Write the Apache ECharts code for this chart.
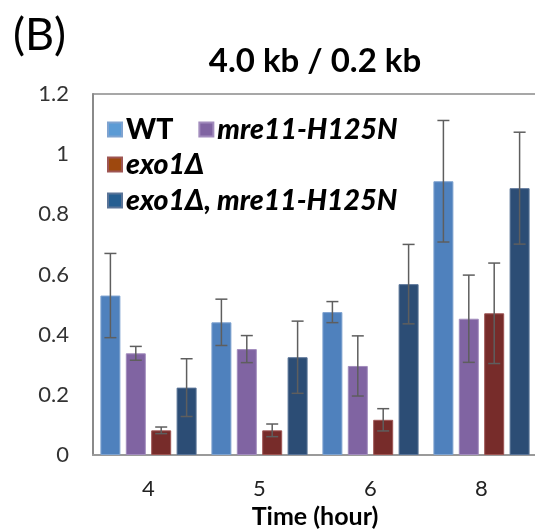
<!DOCTYPE html>
<html>
<head>
<meta charset="utf-8">
<script src="https://cdn.jsdelivr.net/npm/echarts@6/dist/echarts.min.js"></script>
<style>html,body{margin:0;padding:0;background:#fff}#c{width:535px;height:530px}</style>
</head>
<body>
<div id="c"></div>
<script>
// ---- data ----
var categories = ['4', '5', '6', '8'];
var seriesNames = ['WT', 'mre11-H125N', 'exo1Δ', 'exo1Δ, mre11-H125N'];
var wtValues  = [0.530, 0.441, 0.475, 0.910];
var wtErrors  = [0.140, 0.077, 0.035, 0.202];
var mreValues = [0.338, 0.352, 0.296, 0.453];
var mreErrors = [0.023, 0.045, 0.100, 0.145];
var exoValues = [0.082, 0.082, 0.117, 0.471];
var exoErrors = [0.011, 0.021, 0.037, 0.167];
var dblValues = [0.224, 0.325, 0.568, 0.887];
var dblErrors = [0.096, 0.120, 0.132, 0.186];
var yTickLabels = ['0', '0.2', '0.4', '0.6', '0.8', '1', '1.2'];

// ---- styling ----
var FONT = 'Lato, "Noto Sans", sans-serif';
var barColors = ['#4F81BD', '#8064A2', '#772C2A', '#2C4D75'];
var barBorders = ['#7FA3D0', '#A28CBD', '#9E5654', '#5A7498'];
var legendColors = ['#5B9BD5', '#8064A2', '#9E480E', '#255E91'];
var BAR_W = 20, BAR_GAP = 0.27;

var allValues = [wtValues, mreValues, exoValues, dblValues];
var allErrors = [wtErrors, mreErrors, exoErrors, dblErrors];

var chart = echarts.init(document.getElementById('c'), null, {renderer: 'canvas'});

var series = [];
allValues.forEach(function (vals, i) {
  series.push({
    name: seriesNames[i],
    type: 'bar',
    data: vals,
    barWidth: BAR_W,
    barGap: (BAR_GAP * 100) + '%',
    itemStyle: {color: barColors[i], borderColor: barBorders[i], borderWidth: 1},
    z: 2
  });
});
allValues.forEach(function (vals, i) {
  var step = BAR_W * (1 + BAR_GAP);
  var offset = (i - 1.5) * step;
  series.push({
    type: 'custom',
    name: 'err' + i,
    z: 5,
    silent: true,
    data: vals.map(function (v, k) { return [k, v, allErrors[i][k]]; }),
    renderItem: function (params, api) {
      var k = api.value(0), v = api.value(1), e = api.value(2);
      var top = api.coord([k, v + e]);
      var bot = api.coord([k, v - e]);
      var x = top[0] + offset;
      var cap = 6;
      var st = {stroke: '#5E5E5E', lineWidth: 1.5};
      return {
        type: 'group',
        children: [
          {type: 'line', shape: {x1: x, y1: top[1], x2: x, y2: bot[1]}, style: st},
          {type: 'line', shape: {x1: x - cap, y1: top[1], x2: x + cap, y2: top[1]}, style: st},
          {type: 'line', shape: {x1: x - cap, y1: bot[1], x2: x + cap, y2: bot[1]}, style: st}
        ]
      };
    }
  });
});

function legendItem(i, italic) {
  return {
    name: seriesNames[i],
    itemStyle: {color: legendColors[i]},
    textStyle: {fontStyle: italic ? 'italic' : 'normal'}
  };
}
var legendBase = {
  icon: 'rect', itemWidth: 14, itemHeight: 14, padding: 0, itemGap: 25,
  selectedMode: false,
  textStyle: {fontFamily: FONT, fontSize: 28.5, fontWeight: 900, color: '#000', lineHeight: 28, padding: [0, 0, 0, -1]}
};

chart.setOption({
  animation: false,
  backgroundColor: '#fff',
  title: [
    {text: '(B)', left: 8, top: 8, textStyle: {fontFamily: FONT, fontSize: 45, fontWeight: 'normal', color: '#000'}},
    {text: '4.0 kb / 0.2 kb', left: 310, textAlign: 'center', top: 40, textStyle: {fontFamily: FONT, fontSize: 33, fontWeight: 'bold', color: '#000'}}
  ],
  legend: [
    Object.assign({}, legendBase, {left: 107, top: 115, data: [legendItem(0, false), legendItem(1, true)]}),
    Object.assign({}, legendBase, {left: 107, top: 150, data: [legendItem(2, true)]}),
    Object.assign({}, legendBase, {left: 107, top: 186, data: [legendItem(3, true)]})
  ],
  grid: {left: 93, top: 94, width: 444, height: 361, show: false, containLabel: false, outerBoundsMode: 'none'},
  xAxis: [{
    type: 'category',
    data: categories,
    name: 'Time (hour)',
    nameLocation: 'middle',
    nameGap: 49,
    nameTextStyle: {fontFamily: FONT, fontSize: 25, fontWeight: 'bold', color: '#000'},
    axisLine: {show: true, lineStyle: {color: '#9A9A9A', width: 2}},
    axisTick: {show: false},
    axisLabel: {fontFamily: FONT, fontSize: 22, color: '#222', margin: 23}
  }, {
    type: 'category',
    data: categories,
    position: 'top',
    axisLine: {show: true, onZero: false, lineStyle: {color: '#8A8A8A', width: 1.5}},
    axisTick: {show: false},
    axisLabel: {show: false}
  }],
  yAxis: {
    type: 'value',
    min: 0, max: 1.2, interval: 0.2,
    axisLine: {show: true, lineStyle: {color: '#8A8A8A', width: 2}},
    axisTick: {show: false},
    splitLine: {show: false},
    axisLabel: {
      fontFamily: FONT, fontSize: 22, color: '#333', margin: 24,
      formatter: function (v) { return yTickLabels[Math.round(v / 0.2)]; }
    }
  },
  series: series
});
</script>
</body>
</html>
